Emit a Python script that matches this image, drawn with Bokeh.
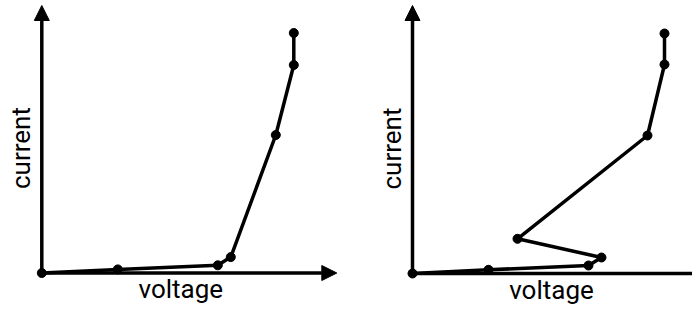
import math
from bokeh.plotting import figure
from bokeh.layouts import row
from bokeh.models import Range1d, Arrow, NormalHead
from bokeh.core.properties import value
from bokeh.embed import file_html
from bokeh.resources import INLINE

# Data (arbitrary units)
left_voltage = [0.0, 0.76, 1.76, 1.89, 2.34, 2.52, 2.52]
left_current = [0.0, 0.36, 0.77, 1.59, 13.8, 20.8, 24.0]

right_voltage = [0.0, 0.76, 1.76, 1.89, 1.05, 2.35, 2.52, 2.52]
right_current = [0.0, 0.37, 0.80, 1.60, 3.47, 13.8, 20.9, 24.0]

x_label = "voltage"
y_label = "current"

FONT = value("Roboto")
FSIZE = value("26px")
H = 306


def make_panel(vx, cy, width, x_start, y_end):
    y_start = y_end - H / 10.0
    p = figure(width=width, height=H, output_backend="svg", toolbar_location=None,
               x_axis_location=None, y_axis_location=None,
               x_range=Range1d(x_start, x_start + width / 100.0),
               y_range=Range1d(y_start, y_end),
               min_border=0, min_border_left=0, min_border_right=0,
               min_border_top=0, min_border_bottom=0)
    p.outline_line_color = None
    p.grid.visible = False
    p.background_fill_color = "white"
    p.border_fill_color = "white"

    # axes as arrows
    p.add_layout(Arrow(end=NormalHead(size=15, fill_color="black", line_color="black", line_width=1),
                       x_start=0, y_start=0, x_end=2.95, y_end=0,
                       line_width=3.5, line_color="black"))
    p.add_layout(Arrow(end=NormalHead(size=15, fill_color="black", line_color="black", line_width=1),
                       x_start=0, y_start=0, x_end=0, y_end=y_end - 0.5,
                       line_width=3.5, line_color="black"))

    p.line(vx, cy, line_width=3.5, line_color="black", line_join="round")
    p.scatter(vx, cy, size=9, fill_color="black", line_color="black")

    p.text(x=[1.39], y=[-1.6], text=[x_label], text_font=FONT, text_font_size=FSIZE,
           text_align="center", text_baseline="middle", text_color="black")
    p.text(x=[-0.207], y=[12.5], text=[y_label], text_font=FONT, text_font_size=FSIZE,
           text_align="center", text_baseline="middle", angle=math.pi / 2,
           text_color="black")
    return p


p1 = make_panel(left_voltage, left_current, 370, -0.413, 27.25)
p2 = make_panel(right_voltage, right_current, 322, -0.42, 27.3)

layout = row(p1, p2, spacing=0)
open("out.html", "w").write(file_html(layout, INLINE))
